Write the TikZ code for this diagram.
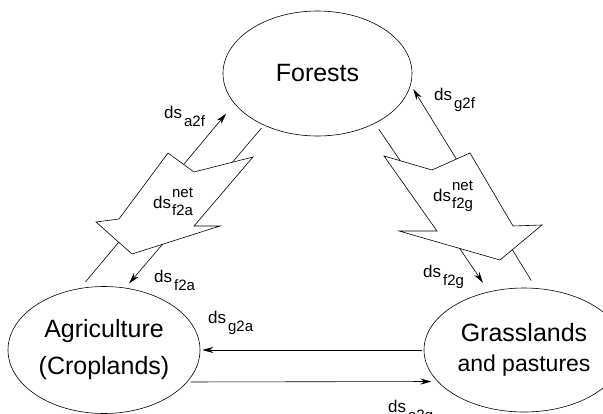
\documentclass[tikz,border=0pt]{standalone}
\usepackage{fontspec}
\setmainfont{Liberation Sans}
\usetikzlibrary{positioning,shapes.geometric,arrows.meta}
\newcommand{\dsub}[1]{ds\hspace{2pt}\raisebox{-8pt}{\fontsize{15}{15}\selectfont #1}}
\newcommand{\dsnet}[1]{ds\hspace{1pt}\rlap{\raisebox{11pt}{\fontsize{15}{15}\selectfont net}}\raisebox{-7pt}{\fontsize{15}{15}\selectfont #1}}

\begin{document}
\begin{tikzpicture}[x=1pt,y=-1pt,
  region/.style={draw,ellipse,inner sep=0pt,align=center,line width=0.6pt},
  flow/.style={line width=0.6pt,-{Stealth[length=11pt,width=6pt]}},
  fat/.style={draw,fill=white,line width=0.6pt,line join=miter},
  lbl/.style={inner sep=0pt,anchor=base west,font=\fontsize{17}{18}\selectfont}]
\useasboundingbox (0,0) rectangle (603,413);
% land use classes
\node[region,minimum width=189pt,minimum height=125pt,font=\fontsize{25}{28}\selectfont] (forest) at (317.5,73.5) {Forests};
\node[region,minimum width=192pt,minimum height=127pt,font=\fontsize{25}{37}\selectfont] (agri) at (104,350) {Agriculture\\(Croplands)};
\node[region,minimum width=200pt,minimum height=124pt,font=\fontsize{25}{30}\selectfont] (grass) at (524,350) {Grasslands\\{\fontsize{23}{30}\selectfont and pastures}};
% gross flows
\draw[flow,shorten <=8pt,shorten >=13pt] (agri.111.5) -- (forest.200.5);
\draw[flow,shorten <=3.7pt,shorten >=5.8pt] (forest.224.2) -- (agri.71.8);
\draw[flow,shorten <=9pt,shorten >=5pt] (grass.79) -- (forest.-7.4);
\draw[flow,shorten <=7pt,shorten >=10.7pt] (forest.319.2) -- (grass.121.1);
\draw[flow,shorten <=2pt,shorten >=2pt] (grass.west) -- (agri.east);
\draw[flow,shorten <=3.3pt,shorten >=6pt] (agri.-21.2) -- (grass.200.5);
% net flows
\draw[fat] (168,153) -- (194,172) -- (253,157) -- (194,226) -- (220,226) -- (132,254) -- (96,222) -- (119,219) -- cycle;
\draw[fat] (384,156) -- (432,170) -- (470,153) -- (513,226) -- (542,225) -- (500,260) -- (399,231) -- (437,231) -- cycle;
\node[lbl] (netfa) at (153,208) {\dsnet{f2a}};
\node[lbl] (netfg) at (433,201) {\dsnet{f2g}};
% labels
\node[lbl] (af) at (164,118) {\dsub{a2f}};
\node[lbl] (fa) at (154,282) {\dsub{f2a}};
\node[lbl] (gf) at (434,100) {\dsub{g2f}};
\node[lbl] (fg) at (423,277) {\dsub{f2g}};
\node[lbl] (ga) at (208,323) {\dsub{g2a}};
\node[lbl] (ag) at (388,412) {\dsub{a2g}};
\end{tikzpicture}
\end{document}
